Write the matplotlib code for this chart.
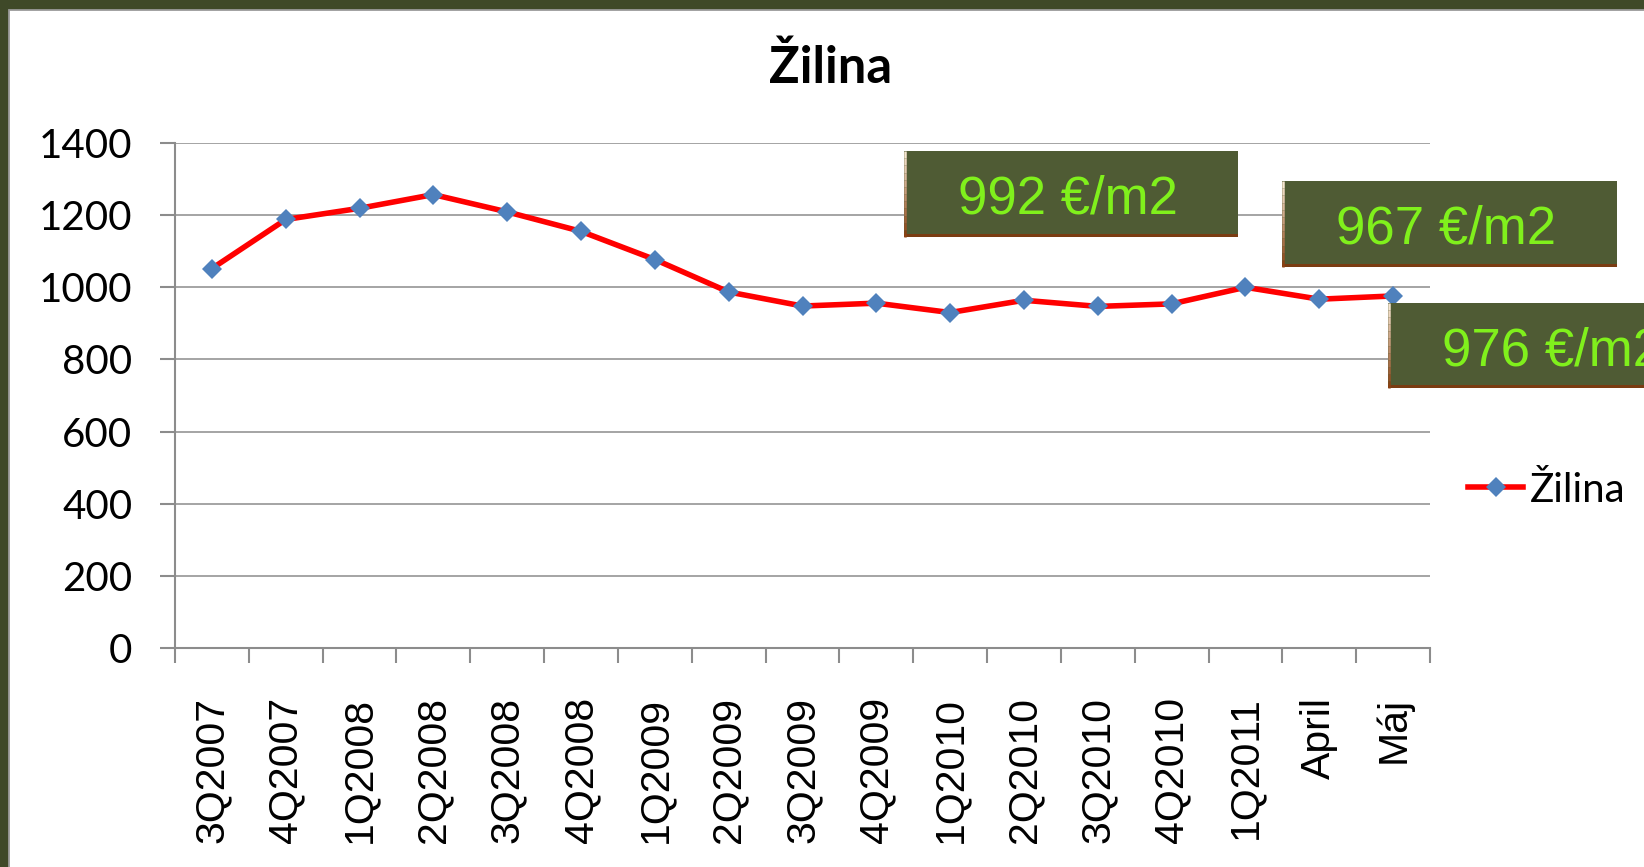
import numpy as np
import matplotlib
matplotlib.use("Agg")
import matplotlib.pyplot as plt
from matplotlib.patches import Rectangle
from matplotlib.lines import Line2D


# ============================================================
# DATA
# ============================================================

categories = [
    "3Q2007", "4Q2007", "1Q2008", "2Q2008", "3Q2008", "4Q2008",
    "1Q2009", "2Q2009", "3Q2009", "4Q2009", "1Q2010", "2Q2010",
    "3Q2010", "4Q2010", "1Q2011", "April", "Máj"
]

prices = [
    1052, 1188, 1219, 1257, 1209, 1155,
    1077, 987, 948, 956, 930, 964,
    947, 954, 1000, 967, 976
]

y_ticks = [0, 200, 400, 600, 800, 1000, 1200, 1400]

series_name = "Žilina"

callout_texts = ["992 €/m2", "967 €/m2", "976 €/m2"]


# ============================================================
# LAYOUT HELPERS (pixel -> figure fraction)
# ============================================================

W, H = 1644, 867


def fx(px):
    return px / W


def fy(py):
    return 1 - py / H


GRAY = "#8c8c8c"

fig = plt.figure(figsize=(W / 100, H / 100), dpi=100)
fig.patch.set_facecolor("#3f4928")

# white slide panel with thin grey border
fig.add_artist(
    Rectangle(
        (fx(9), -0.02), 1.0, fy(10) + 0.02,
        transform=fig.transFigure,
        facecolor="white", edgecolor="#9a9a9a", lw=1.3, zorder=-1
    )
)


# ============================================================
# LINE CHART
# ============================================================

ax = fig.add_axes([
    fx(175), fy(648),
    fx(1430) - fx(175), fy(143) - fy(648)
])
ax.set_facecolor("none")

x = np.arange(len(categories))

ax.plot(
    x, prices,
    color="#ff0000", lw=4.0,
    marker="D", ms=10.5,
    mfc="#4f81bd", mec="#4f81bd", mew=0,
    label=series_name, zorder=3
)

ax.set_xlim(-0.5, len(categories) - 0.5)
ax.set_ylim(0, 1400)

ax.set_yticks(y_ticks)
ax.yaxis.grid(True, color=GRAY, lw=1.1)
ax.set_axisbelow(True)

ax.set_xticks(x)
ax.set_xticklabels(categories, rotation=90,
                   fontfamily="Liberation Sans", fontsize=29.5)
ax.set_xticks(np.arange(-0.5, len(categories), 1), minor=True)

ax.tick_params(axis="x", which="major", length=0, pad=35)
ax.tick_params(axis="x", which="minor", length=10.8, width=1.5,
               color=GRAY, direction="out")
ax.tick_params(axis="y", length=10.8, width=1.5, color=GRAY,
               pad=20, labelsize=29)
for lab in ax.get_yticklabels():
    lab.set_fontfamily("Lato")

for side in ["top", "right"]:
    ax.spines[side].set_visible(False)
for side in ["left", "bottom"]:
    ax.spines[side].set_color(GRAY)
    ax.spines[side].set_linewidth(1.5)

ax.legend(
    loc="center left",
    bbox_to_anchor=(fx(1468), fy(490)),
    bbox_transform=fig.transFigure,
    frameon=False,
    prop={"family": "Lato", "size": 29},
    handlelength=1.37, handletextpad=0.17,
    borderpad=0, borderaxespad=0
)

fig.text(fx(831), fy(83), series_name, ha="center", va="baseline",
         fontsize=36.5, fontweight="bold", family="Lato")


# ============================================================
# PRICE CALLOUT BOXES
# ============================================================

boxes = [
    (904, 151, 1238, 237),
    (1282, 181, 1617, 267),
    (1388, 303, 1722, 388),
]

for (left, top, right, bottom), label in zip(boxes, callout_texts):

    fig.add_artist(
        Rectangle(
            (fx(left), fy(bottom)), fx(right) - fx(left), fy(top) - fy(bottom),
            transform=fig.transFigure,
            facecolor="#4f5b34", edgecolor="none", zorder=5
        )
    )

    # brown bottom edge
    fig.add_artist(
        Rectangle(
            (fx(left), fy(bottom)), fx(right) - fx(left), 3 / H,
            transform=fig.transFigure,
            facecolor="#7a3c12", edgecolor="none", zorder=6
        )
    )

    # left edge: light at top, copper at bottom
    steps = 12
    c0 = np.array([0.97, 0.90, 0.82])
    c1 = np.array([0.55, 0.26, 0.08])
    for k in range(steps):
        t = k / (steps - 1)
        ya = top + (bottom - top) * k / steps
        yb = top + (bottom - top) * (k + 1) / steps
        fig.add_artist(
            Line2D([fx(left + 1), fx(left + 1)], [fy(ya), fy(yb)],
                   transform=fig.transFigure,
                   color=tuple(c0 + (c1 - c0) * t), lw=1.8, zorder=6,
                   solid_capstyle="butt")
        )

    cy = (top + bottom) / 2
    fig.text(fx(left + 54), fy(cy + 20), label,
             ha="left", va="baseline",
             fontsize=38, family="Liberation Sans",
             color="#80f01c", zorder=7)


fig.savefig("out.png", dpi=100)
